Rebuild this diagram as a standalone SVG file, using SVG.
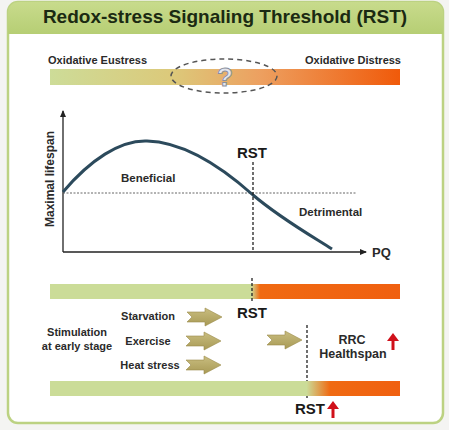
<svg xmlns="http://www.w3.org/2000/svg" width="449" height="430" viewBox="0 0 449 430">
<defs>
<linearGradient id="gTop" x1="0" x2="1" y1="0" y2="0">
<stop offset="0" stop-color="#cddc98"/>
<stop offset="0.35" stop-color="#dcc97a"/>
<stop offset="0.6" stop-color="#eda060"/>
<stop offset="1" stop-color="#f05a0a"/>
</linearGradient>
<linearGradient id="gTitle" x1="0" x2="0" y1="0" y2="1">
<stop offset="0" stop-color="#c8db8c"/>
<stop offset="1" stop-color="#b6ce74"/>
</linearGradient>
<linearGradient id="gBar2" x1="50" x2="400" y1="0" y2="0" gradientUnits="userSpaceOnUse">
<stop offset="0.575" stop-color="#cbdc98"/>
<stop offset="0.6" stop-color="#f06a12"/>
<stop offset="1" stop-color="#f06010"/>
</linearGradient>
<linearGradient id="gBar3" x1="50" x2="400" y1="0" y2="0" gradientUnits="userSpaceOnUse">
<stop offset="0.733" stop-color="#cbdc98"/>
<stop offset="0.8" stop-color="#f06a12"/>
<stop offset="1" stop-color="#f06010"/>
</linearGradient>
<linearGradient id="gArrow" x1="0" x2="0" y1="0" y2="1">
<stop offset="0" stop-color="#c9bd80"/>
<stop offset="1" stop-color="#a89a55"/>
</linearGradient>
<marker id="ax" markerWidth="8" markerHeight="8" refX="6" refY="4" orient="auto" markerUnits="userSpaceOnUse">
<path d="M0,1 L7,4 L0,7 Z" fill="#222"/>
</marker>
<g id="blk">
<polygon points="0,-5 18,-5 18,-9 35,0 18,9 18,5 0,5 5,0" fill="url(#gArrow)" stroke="#9a8c4a" stroke-width="0.6"/>
</g>
<g id="red">
<path d="M0,0 L0,-12" stroke="#d0101a" stroke-width="3"/>
<polygon points="-6,-9 0,-17 6,-9" fill="#d0101a"/>
</g>
</defs>
<style>
text{font-family:"Liberation Sans",Arial,sans-serif;font-weight:bold;fill:#2a2a2a}
.lab{font-size:11px}
.small{font-size:11.5px}
.rst{font-size:15px;fill:#1a1a1a}
.dash{stroke:#222;stroke-width:1.3;stroke-dasharray:3,2;fill:none}
</style>
<rect x="0" y="0" width="449" height="430" fill="#f4f4f2"/>
<rect x="8" y="2" width="435" height="421" rx="10" fill="#ffffff" stroke="#bcd282" stroke-width="2.5"/>
<path d="M8,12 a10,10 0 0 1 10,-10 h415 a10,10 0 0 1 10,10 v22 h-435 Z" fill="url(#gTitle)"/>
<text x="225" y="23" text-anchor="middle" style="font-size:19px;fill:#1b2a12">Redox-stress Signaling Threshold (RST)</text>

<g id="top-bar">
<rect x="50" y="69" width="350" height="16" fill="url(#gTop)"/>
<text class="lab" x="48" y="64">Oxidative Eustress</text>
<text class="lab" x="401" y="64" text-anchor="end">Oxidative Distress</text>
<ellipse cx="224" cy="76" rx="53" ry="17" fill="none" stroke="#555" stroke-width="1.5" stroke-dasharray="5,4"/>
<text x="225" y="86" text-anchor="middle" style="font-size:26px;fill:#e4e6ee;stroke:#8a8f9e;stroke-width:1">?</text>
</g>

<g id="chart">
<line x1="63" y1="252" x2="63" y2="111" stroke="#222" stroke-width="1.3" marker-end="url(#ax)"/>
<line x1="63" y1="252" x2="366" y2="252" stroke="#222" stroke-width="1.3" marker-end="url(#ax)"/>
<text x="372" y="257" style="font-size:13px">PQ</text>
<text transform="translate(54,179) rotate(-90)" text-anchor="middle" style="font-size:12px">Maximal lifespan</text>
<line x1="63" y1="193" x2="357" y2="193" stroke="#555" stroke-width="0.9" stroke-dasharray="2,1.5"/>
<path d="M63,192 C90,160 120,140 147,141 C185,142 225,170 253,195 C280,218 310,235 332,249" fill="none" stroke="#2c4a5c" stroke-width="3"/>
<line class="dash" x1="253" y1="162" x2="253" y2="252"/>
<text class="rst" x="252" y="158" text-anchor="middle">RST</text>
<text class="small" x="121" y="182">Beneficial</text>
<text class="small" x="299" y="216">Detrimental</text>
</g>

<g id="bar2">
<rect x="50" y="284" width="350" height="15" fill="url(#gBar2)"/>
<line class="dash" x1="252" y1="278" x2="252" y2="303"/>
<text class="rst" x="252" y="318" text-anchor="middle">RST</text>
</g>

<g id="stimuli">
<text class="lab" x="77" y="336" text-anchor="middle">Stimulation</text>
<text class="lab" x="77" y="350" text-anchor="middle">at early stage</text>
<text class="lab" x="148" y="320" text-anchor="middle">Starvation</text>
<text class="lab" x="148" y="345" text-anchor="middle">Exercise</text>
<text class="lab" x="150" y="369" text-anchor="middle">Heat stress</text>
</g>

<g id="connectors">
<use href="#blk" x="187" y="317"/>
<use href="#blk" x="186" y="341"/>
<use href="#blk" x="186" y="365"/>
<use href="#blk" x="267" y="340"/>
</g>

<g id="result">
<line class="dash" x1="307" y1="325" x2="307" y2="399"/>
<text x="352" y="344" text-anchor="middle" style="font-size:12.5px">RRC</text>
<text x="353" y="358" text-anchor="middle" style="font-size:12.5px">Healthspan</text>
<use href="#red" x="393" y="350"/>
</g>

<g id="bar3">
<rect x="50" y="381" width="350" height="15" fill="url(#gBar3)"/>
<text class="rst" x="310" y="414" text-anchor="middle">RST</text>
<use href="#red" x="333" y="418"/>
</g>
</svg>
